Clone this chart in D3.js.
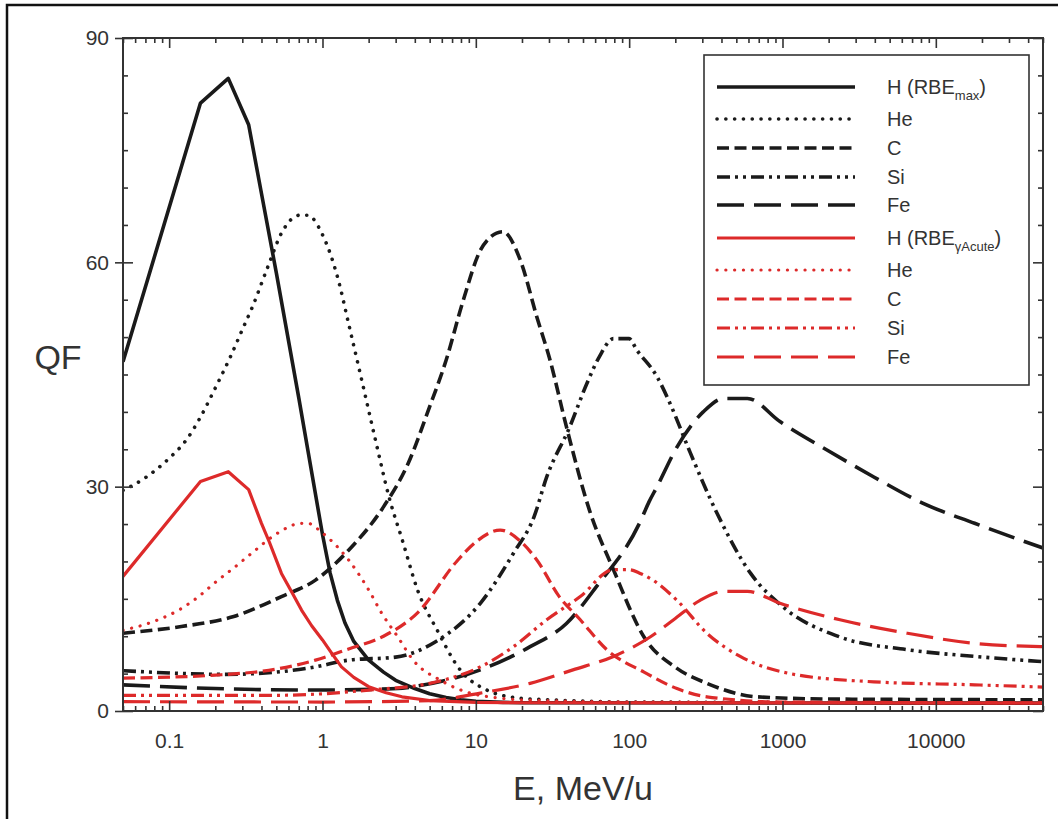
<!DOCTYPE html>
<html>
<head>
<meta charset="utf-8">
<script src="https://cdn.jsdelivr.net/npm/d3@7"></script>
<style>
  body { margin: 0; background: #fff; }
  svg { display: block; }
  text { font-family: "Liberation Sans", Arial, sans-serif; fill: #333; }
</style>
</head>
<body>
<svg id="chart" width="1062" height="819"></svg>
<script>
// ---- Energy grids (MeV/u) and quality-factor values, one pair per curve ----
// RBE_max based
const eHmax  = [0.05, 0.16, 0.243, 0.33, 0.40, 0.5, 0.7, 1.0, 1.12, 1.25, 1.4, 1.6, 2.0, 2.5, 3.0, 4.0, 5.0, 6.4, 8, 10, 15, 20, 50000];
const qfHmax = [46.7, 81.3, 84.6, 78.4, 69.2, 58.6, 41.9, 23.6, 18.5, 14.8, 11.8, 9.3, 6.8, 5.2, 4.1, 3.0, 2.3, 1.8, 1.5, 1.3, 1.15, 1.1, 1.05];

const eHeMax  = [0.05, 0.07, 0.1, 0.13, 0.16, 0.2, 0.25, 0.3, 0.35, 0.44, 0.54, 0.71, 0.8, 1.0, 1.27, 1.48, 1.8, 2.2, 2.75, 3.3, 4.2, 5.6, 7.9, 11.8, 19.5, 30, 100, 50000];
const qfHeMax = [29.5, 31.2, 33.8, 36.3, 39.3, 43.2, 47.3, 51.0, 54.1, 59.4, 63.9, 66.3, 66.3, 63.7, 57.6, 51.8, 44.3, 36.5, 28.2, 23.0, 16.0, 10.8, 5.5, 2.8, 1.7, 1.5, 1.2, 1.1];

const eCMax  = [0.05, 0.12, 0.26, 0.54, 0.9, 1.48, 2.5, 3.6, 5.0, 6.4, 8.3, 10.7, 12.5, 15, 19.5, 25, 30.5, 39, 55, 79, 125, 205, 321, 680, 2000, 50000];
const qfCMax = [10.4, 11.3, 12.6, 15.3, 17.5, 21.5, 27.3, 33.0, 40.7, 46.9, 55.0, 61.6, 63.4, 64.1, 60.3, 52.7, 46.9, 38.0, 26.9, 18.9, 9.9, 5.7, 3.7, 1.9, 1.6, 1.5];

const eSiMax  = [0.05, 0.23, 0.5, 0.9, 1.48, 3.0, 5.5, 10.7, 17.6, 24, 29, 41, 53, 64, 79, 100, 112, 152, 185, 245, 375, 620, 1010, 2370, 6500, 17900, 50000];
const qfSiMax = [5.4, 4.9, 5.2, 5.9, 6.8, 7.2, 9.3, 14.4, 21.1, 26.0, 31.3, 38.0, 43.8, 47.4, 49.8, 49.8, 48.3, 44.7, 41.1, 35.0, 26.4, 18.4, 13.9, 9.9, 8.2, 7.3, 6.6];

const eFeMax  = [0.05, 0.2, 0.9, 3.1, 3.9, 10.7, 22.6, 39, 61, 118, 135, 152, 205, 304, 413, 590, 963, 1950, 3940, 8200, 17900, 50000];
const qfFeMax = [3.5, 3.0, 2.8, 3.0, 3.25, 5.5, 8.6, 11.7, 16.6, 25.3, 28.0, 30.0, 35.3, 40.0, 41.8, 41.8, 38.7, 34.9, 31.3, 27.8, 25.1, 21.8];

// RBE_gamma,Acute based
const eHAcute  = [0.05, 0.16, 0.243, 0.33, 0.40, 0.45, 0.54, 0.63, 0.73, 0.85, 1.0, 1.15, 1.33, 1.6, 2.0, 2.6, 3.3, 5, 10, 20, 50000];
const qfHAcute = [18.0, 30.7, 32.0, 29.6, 25.1, 22.6, 18.4, 15.9, 13.5, 11.4, 9.5, 7.7, 5.9, 4.5, 3.25, 2.45, 1.9, 1.4, 1.15, 1.1, 1.05];

const eHeAcute  = [0.05, 0.08, 0.12, 0.16, 0.2, 0.27, 0.35, 0.47, 0.6, 0.71, 0.8, 1.0, 1.48, 2.0, 2.43, 3.1, 3.9, 5.9, 9.2, 20, 100, 50000];
const qfHeAcute = [10.8, 12.0, 13.7, 15.5, 17.2, 19.3, 21.2, 23.3, 24.6, 25.1, 25.1, 23.8, 20.2, 16.2, 13.1, 9.9, 6.8, 4.1, 2.4, 1.5, 1.2, 1.1];

const eCAcute  = [0.05, 0.2, 0.5, 0.9, 1.48, 2.5, 4.2, 7.5, 10, 14.4, 20, 25, 35, 48, 71.5, 125, 205, 321, 1000, 50000];
const qfCAcute = [4.4, 4.8, 5.6, 6.8, 8.3, 10.0, 13.2, 20.0, 22.6, 24.2, 22.5, 20.2, 15.3, 12.2, 8.2, 5.2, 3.0, 1.9, 1.2, 1.1];

const eSiAcute  = [0.05, 0.5, 1.0, 2.0, 5.0, 10.7, 17.6, 29, 48, 79, 100, 118, 143, 205, 321, 530, 1120, 3940, 17900, 50000];
const qfSiAcute = [2.1, 2.1, 2.3, 2.8, 3.7, 5.9, 8.6, 12.2, 15.3, 18.9, 18.9, 18.4, 17.5, 14.8, 10.4, 7.3, 5.0, 3.9, 3.5, 3.2];

const eFeAcute  = [0.05, 1.0, 5, 10.7, 22.6, 43, 79, 137, 195, 290, 413, 590, 963, 2370, 6500, 17900, 50000];
const qfFeAcute = [1.25, 1.2, 1.4, 2.4, 3.7, 5.5, 7.3, 9.9, 12.2, 14.8, 16.0, 16.0, 14.4, 12.2, 10.4, 9.05, 8.6];

// ---- Axis ticks ----
const xTickValues = [0.1, 1, 10, 100, 1000, 10000];
const xTickLabels = ["0.1", "1", "10", "100", "1000", "10000"];
const yTickValues = [0, 30, 60, 90];
const yMinorValues = [5, 10, 15, 20, 25, 35, 40, 45, 50, 55, 65, 70, 75, 80, 85];

// ---- Layout ----
const margin = { left: 123, top: 38, right: 1043, bottom: 711 };
const BLACK = "#1a1a1a";
const RED = "#dd2a2a";

const x = d3.scaleLog().domain([0.05, 50000]).range([margin.left, margin.right]);
const y = d3.scaleLinear().domain([0, 90]).range([margin.bottom, margin.top]);

// line styles: dasharray, cap
const styles = {
  solid:   { dash: null, cap: "butt" },
  dot:     { dash: "0.1 8.7", cap: "round" },
  dash:    { dash: "12 5.5", cap: "butt" },
  dashDot: { dash: "13 5 3 5 3 5", cap: "butt" },
  longDash:{ dash: "27 10", cap: "butt" }
};

const series = [
  { label: "H (RBE", sub: "max", E: eHmax, Q: qfHmax, color: BLACK, style: "solid", curve: d3.curveLinear },
  { label: "He", E: eHeMax, Q: qfHeMax, color: BLACK, style: "dot", curve: d3.curveMonotoneX },
  { label: "C", E: eCMax, Q: qfCMax, color: BLACK, style: "dash", curve: d3.curveMonotoneX },
  { label: "Si", E: eSiMax, Q: qfSiMax, color: BLACK, style: "dashDot", curve: d3.curveMonotoneX },
  { label: "Fe", E: eFeMax, Q: qfFeMax, color: BLACK, style: "longDash", curve: d3.curveMonotoneX },
  { label: "H (RBE", sub: "\u03b3Acute", E: eHAcute, Q: qfHAcute, color: RED, style: "solid", curve: d3.curveLinear },
  { label: "He", E: eHeAcute, Q: qfHeAcute, color: RED, style: "dot", curve: d3.curveMonotoneX },
  { label: "C", E: eCAcute, Q: qfCAcute, color: RED, style: "dash", curve: d3.curveMonotoneX },
  { label: "Si", E: eSiAcute, Q: qfSiAcute, color: RED, style: "dashDot", curve: d3.curveMonotoneX },
  { label: "Fe", E: eFeAcute, Q: qfFeAcute, color: RED, style: "longDash", curve: d3.curveMonotoneX }
];

const svg = d3.select("#chart");

// outer frame (top and left edges fall inside the page)
svg.append("path").attr("d", "M7,830 V5 H1058")
  .attr("fill", "none").attr("stroke", "#111").attr("stroke-width", 2.5);

svg.append("clipPath").attr("id", "plotClip").append("rect")
  .attr("x", margin.left).attr("y", margin.top - 2)
  .attr("width", margin.right - margin.left).attr("height", margin.bottom - margin.top + 2);

// ---- curves ----
const gLines = svg.append("g").attr("clip-path", "url(#plotClip)");
series.forEach(s => {
  const pts = s.E.map((e, i) => [e, s.Q[i]]);
  const line = d3.line().x(d => x(d[0])).y(d => y(d[1])).curve(s.curve);
  const st = styles[s.style];
  gLines.append("path")
    .attr("d", line(pts))
    .attr("fill", "none")
    .attr("stroke", s.color)
    .attr("stroke-width", s.color === RED ? 3.2 : 3.6)
    .attr("stroke-linecap", st.cap)
    .attr("stroke-linejoin", "round")
    .attr("stroke-dasharray", st.dash);
});

// ---- axes ----
const minorX = [];
for (let p = -2; p <= 4; p++) {
  for (let m = 1; m <= 9; m++) {
    const v = m * Math.pow(10, p);
    if (v >= 0.05 && v <= 50000 && m !== 1) minorX.push(v);
  }
}

function styleAxis(g) {
  g.select(".domain").remove();
  g.selectAll(".tick line").attr("stroke", "#333").attr("stroke-width", 1.6);
  g.selectAll(".tick text").attr("fill", "#333").style("font-size", "21px")
    .style("font-family", "'Liberation Sans', Arial, sans-serif");
}

// bottom
svg.append("g").attr("transform", `translate(0,${margin.bottom})`)
  .call(d3.axisBottom(x).tickValues(xTickValues).tickFormat((d, i) => xTickLabels[i]).tickSizeInner(-10).tickSizeOuter(0).tickPadding(22))
  .call(styleAxis);
svg.append("g").attr("transform", `translate(0,${margin.bottom})`)
  .call(d3.axisBottom(x).tickValues(minorX).tickFormat("").tickSizeInner(-5).tickSizeOuter(0))
  .call(styleAxis);
// top
svg.append("g").attr("transform", `translate(0,${margin.top})`)
  .call(d3.axisTop(x).tickValues(xTickValues).tickFormat("").tickSizeInner(-10).tickSizeOuter(0))
  .call(styleAxis);
svg.append("g").attr("transform", `translate(0,${margin.top})`)
  .call(d3.axisTop(x).tickValues(minorX).tickFormat("").tickSizeInner(-5).tickSizeOuter(0))
  .call(styleAxis);
// left
svg.append("g").attr("transform", `translate(${margin.left},0)`)
  .call(d3.axisLeft(y).tickValues(yTickValues).tickFormat(d3.format("d")).tickSizeInner(8).tickSizeOuter(0).tickPadding(6))
  .call(styleAxis);
svg.append("g").attr("transform", `translate(${margin.left},0)`)
  .call(d3.axisLeft(y).tickValues(yTickValues).tickFormat("").tickSizeInner(-10).tickSizeOuter(0))
  .call(styleAxis);
svg.append("g").attr("transform", `translate(${margin.left},0)`)
  .call(d3.axisLeft(y).tickValues(yMinorValues).tickFormat("").tickSizeInner(-5).tickSizeOuter(0))
  .call(styleAxis);
// right
svg.append("g").attr("transform", `translate(${margin.right},0)`)
  .call(d3.axisRight(y).tickValues(yTickValues).tickFormat("").tickSizeInner(-10).tickSizeOuter(0))
  .call(styleAxis);
svg.append("g").attr("transform", `translate(${margin.right},0)`)
  .call(d3.axisRight(y).tickValues(yMinorValues).tickFormat("").tickSizeInner(-5).tickSizeOuter(0))
  .call(styleAxis);

// plot frame
svg.append("rect")
  .attr("x", margin.left).attr("y", margin.top)
  .attr("width", margin.right - margin.left).attr("height", margin.bottom - margin.top)
  .attr("fill", "none").attr("stroke", "#333").attr("stroke-width", 2);

// axis titles
svg.append("text").attr("x", (margin.left + margin.right) / 2).attr("y", 800)
  .attr("text-anchor", "middle").style("font-size", "34px").text("E, MeV/u");
svg.append("text").attr("x", 58).attr("y", 369)
  .attr("text-anchor", "middle").style("font-size", "34px").text("QF");

// ---- legend ----
const legend = svg.append("g");
legend.append("rect").attr("x", 704).attr("y", 55).attr("width", 325).attr("height", 330)
  .attr("fill", "#fff").attr("stroke", "#333").attr("stroke-width", 1.6);
const rowY = [87, 119, 148, 177, 205, 238, 270, 299, 328, 357];
series.forEach((s, i) => {
  const st = styles[s.style];
  const yy = rowY[i];
  legend.append("line").attr("x1", 717).attr("x2", 855).attr("y1", yy).attr("y2", yy)
    .attr("stroke", s.color).attr("stroke-width", s.color === RED ? 3.2 : 3.6)
    .attr("stroke-linecap", st.cap).attr("stroke-dasharray", st.dash);
  const t = legend.append("text").attr("x", 887).attr("y", yy + 7).style("font-size", "20px");
  t.append("tspan").text(s.label);
  if (s.sub) {
    t.append("tspan").attr("dy", 6).style("font-size", "13px").text(s.sub);
    t.append("tspan").attr("dy", -6).text(")");
  }
});
</script>
</body>
</html>
